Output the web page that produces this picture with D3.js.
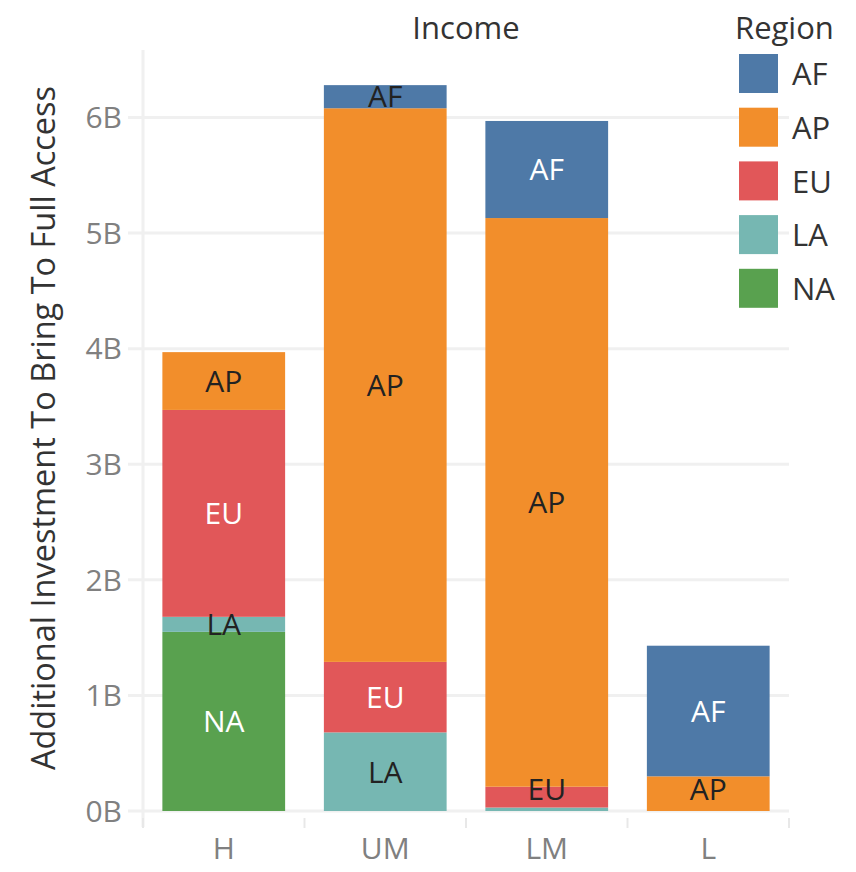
<!DOCTYPE html>
<html>
<head>
<meta charset="utf-8">
<script src="https://cdn.jsdelivr.net/npm/d3@7"></script>
<style>
  body { margin: 0; background: #fff; }
  text { font-family: "Open Sans", sans-serif; }
</style>
</head>
<body>
<script>
// chart data
const incomes = ["H", "UM", "LM", "L"];
const regions = ["AF", "AP", "EU", "LA", "NA"];
// billions, per income group
const afValues = [0, 0.20, 0.84, 1.13];
const apValues = [0.50, 4.79, 4.92, 0.30];
const euValues = [1.79, 0.61, 0.18, 0];
const laValues = [0.13, 0.68, 0.03, 0];
const naValues = [1.55, 0, 0, 0];
const yTicks = [0, 1, 2, 3, 4, 5, 6];
const colors = ["#4e79a7", "#f28e2b", "#e15759", "#76b7b2", "#59a14f"];

const width = 856, height = 872;
const svg = d3.select("body").append("svg")
    .attr("width", width)
    .attr("height", height);

// build rows for stack
const series = { AF: afValues, AP: apValues, EU: euValues, LA: laValues, NA: naValues };
const rows = incomes.map((inc, i) => {
    const r = { income: inc };
    regions.forEach(g => r[g] = series[g][i]);
    return r;
});
// NA at the bottom, AF on top
const stackOrder = regions.slice().reverse();
const stacked = d3.stack().keys(stackOrder)(rows);

const x = d3.scaleBand().domain(incomes).range([143, 789]).paddingInner(0.24).paddingOuter(0.12);
const y = d3.scaleLinear().domain([0, 6]).range([811, 117.5]);
const color = d3.scaleOrdinal().domain(regions).range(colors);

// gridlines
svg.append("g").selectAll("line").data(yTicks).join("line")
    .attr("x1", 128).attr("x2", 789)
    .attr("y1", d => y(d)).attr("y2", d => y(d))
    .attr("stroke", "#f0f0f0").attr("stroke-width", 3);

// vertical axis line
svg.append("line").attr("x1", 143).attr("x2", 143).attr("y1", 50).attr("y2", 827)
    .attr("stroke", "#f0f0f0").attr("stroke-width", 3);

// y tick labels
svg.append("g").selectAll("text").data(yTicks).join("text")
    .attr("x", 122).attr("y", d => y(d)).attr("dy", "0.36em")
    .attr("text-anchor", "end")
    .attr("fill", "#808080").attr("font-size", 30)
    .text(d => d + "B");

// x ticks at band edges
svg.append("g").selectAll("line").data(d3.range(incomes.length + 1)).join("line")
    .attr("x1", i => 143 + i * x.step()).attr("x2", i => 143 + i * x.step())
    .attr("y1", 818).attr("y2", 828)
    .attr("stroke", "#e8e8e8").attr("stroke-width", 2);

svg.append("g").selectAll("text").data(incomes).join("text")
    .attr("x", d => x(d) + x.bandwidth() / 2).attr("y", 859)
    .attr("text-anchor", "middle")
    .attr("fill", "#808080").attr("font-size", 30)
    .text(d => d);

// bars
const layer = svg.append("g").selectAll("g").data(stacked).join("g")
    .attr("fill", d => color(d.key));
layer.selectAll("rect").data(d => d.map(p => ({ key: d.key, p }))).join("rect")
    .attr("x", d => x(d.p.data.income))
    .attr("width", x.bandwidth())
    .attr("y", d => y(d.p[1]))
    .attr("height", d => y(d.p[0]) - y(d.p[1]));

// segment labels
const darkKeys = ["AF", "EU", "NA"];
const labels = [];
stacked.forEach(s => s.forEach(p => {
    const v = p[1] - p[0];
    if (v >= 0.1) labels.push({ key: s.key, p, v });
}));
svg.append("g").selectAll("text").data(labels).join("text")
    .attr("x", d => x(d.p.data.income) + x.bandwidth() / 2)
    .attr("y", d => Math.min((y(d.p[0]) + y(d.p[1])) / 2, 789))
    .attr("dy", "0.36em")
    .attr("text-anchor", "middle")
    .attr("font-size", 30)
    .attr("fill", d => (darkKeys.includes(d.key) && d.v > 0.3) ? "#ffffff" : "#222222")
    .text(d => d.key);

// titles
svg.append("text").attr("x", 466).attr("y", 39).attr("text-anchor", "middle")
    .attr("fill", "#333").attr("font-size", 31).text("Income");

svg.append("text")
    .attr("transform", "translate(55,428) rotate(-90)")
    .attr("text-anchor", "middle")
    .attr("fill", "#333").attr("font-size", 32.5)
    .text("Additional Investment To Bring To Full Access");

// legend
const legend = svg.append("g");
legend.append("text").attr("x", 735).attr("y", 39)
    .attr("fill", "#333").attr("font-size", 31).text("Region");
const items = legend.selectAll("g").data(regions).join("g")
    .attr("transform", (d, i) => `translate(739,${54 + i * 53.7})`);
items.append("rect").attr("width", 39).attr("height", 39).attr("fill", d => color(d));
items.append("text").attr("x", 53).attr("y", 20).attr("dy", "0.36em")
    .attr("fill", "#333").attr("font-size", 31).text(d => d);
</script>
</body>
</html>
